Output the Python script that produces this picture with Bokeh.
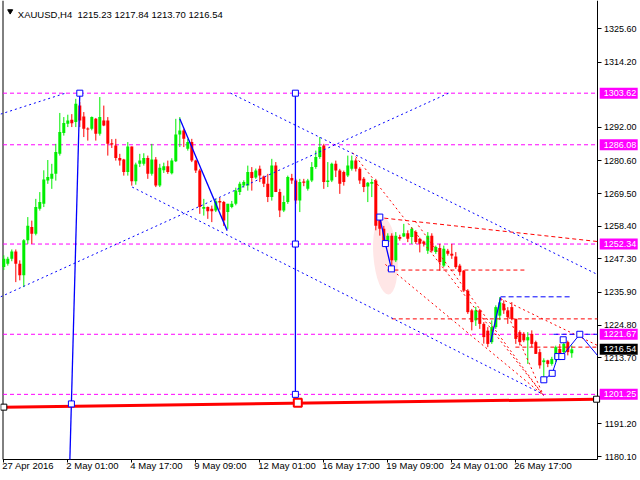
from bokeh.plotting import figure
from bokeh.models import Range1d, FixedTicker, Label, NumeralTickFormatter
from bokeh.embed import file_html
from bokeh.resources import INLINE
from bokeh.core.properties import value

# ---- OHLC data (H4 bars) ----
open_ = [1244.5, 1245.6, 1247.3, 1249.8, 1245.6, 1241.7, 1253.6, 1258.1, 1255.8, 1264.3,
         1266.0, 1273.9, 1274.5, 1276.2, 1283.0, 1290.1, 1293.2, 1294.6, 1293.8, 1299.4,
         1295.7, 1291.6, 1291.5, 1294.9, 1289.8, 1294.3, 1294.3, 1286.6, 1285.8, 1281.6,
         1281.1, 1276.8, 1285.5, 1273.7, 1279.6, 1279.6, 1281.6, 1276.2, 1281.1, 1272.2,
         1277.4, 1278.8, 1276.4, 1280.5, 1289.6, 1290.9, 1284.7, 1287.0, 1280.7, 1277.3,
         1264.3, 1264.9, 1264.3, 1263.7, 1267.0, 1266.6, 1263.2, 1264.9, 1266.0, 1270.0,
         1272.2, 1272.2, 1276.8, 1275.0, 1277.9, 1275.3, 1272.8, 1268.3, 1279.0, 1270.0,
         1263.7, 1266.6, 1274.8, 1273.9, 1267.1, 1273.6, 1271.1, 1273.9, 1278.5, 1281.9,
         1285.8, 1273.4, 1273.9, 1279.6, 1277.3, 1276.8, 1275.6, 1277.9, 1280.7, 1277.9,
         1274.5, 1271.9, 1272.8, 1273.9, 1260.3, 1257.5, 1253.0, 1255.2, 1246.8, 1254.7,
         1254.9, 1256.0, 1254.7, 1256.4, 1254.1, 1253.2, 1250.1, 1255.2, 1249.6, 1251.0,
         1245.0, 1250.1, 1249.0, 1248.1, 1245.0, 1243.3, 1236.5, 1229.8, 1226.4, 1229.8,
         1225.2, 1222.9, 1219.0, 1224.1, 1228.0, 1232.0, 1229.8, 1230.9, 1226.9, 1222.4,
         1221.8, 1219.6, 1221.8, 1219.0, 1215.6, 1212.2, 1212.8, 1211.6, 1213.3, 1216.7,
         1215.6, 1219.0, 1215.23]
high = [1248.5, 1248.0, 1250.5, 1250.5, 1246.8, 1254.0, 1261.5, 1260.3, 1267.7, 1270.0,
        1277.4, 1280.9, 1279.6, 1286.4, 1296.9, 1295.5, 1296.3, 1296.5, 1301.7, 1300.6,
        1297.2, 1292.0, 1295.7, 1295.2, 1302.3, 1299.4, 1295.5, 1288.0, 1288.1, 1283.0,
        1281.3, 1287.0, 1285.5, 1280.0, 1283.0, 1283.2, 1282.4, 1286.4, 1281.9, 1279.6,
        1280.0, 1280.7, 1281.5, 1294.9, 1295.5, 1291.5, 1288.1, 1288.1, 1281.0, 1277.9,
        1267.7, 1265.1, 1265.4, 1267.7, 1268.0, 1267.0, 1266.0, 1267.0, 1271.5, 1273.5,
        1274.0, 1279.0, 1278.5, 1278.0, 1279.0, 1275.6, 1276.2, 1281.3, 1280.2, 1271.1,
        1268.8, 1275.6, 1276.2, 1274.5, 1274.5, 1274.5, 1274.5, 1280.2, 1284.1, 1288.7,
        1286.4, 1280.2, 1280.0, 1280.7, 1277.9, 1277.3, 1282.4, 1282.4, 1281.5, 1278.5,
        1275.1, 1273.4, 1274.5, 1274.5, 1261.5, 1258.5, 1256.0, 1256.0, 1256.4, 1255.5,
        1259.2, 1257.0, 1258.1, 1257.0, 1254.5, 1253.5, 1256.4, 1256.0, 1251.8, 1252.4,
        1251.8, 1250.7, 1252.4, 1249.6, 1245.6, 1243.5, 1237.0, 1230.3, 1231.0, 1230.3,
        1225.8, 1224.1, 1226.4, 1231.5, 1234.3, 1233.2, 1230.9, 1232.6, 1227.0, 1223.0,
        1222.4, 1222.4, 1223.0, 1219.5, 1216.7, 1213.5, 1213.0, 1214.0, 1217.8, 1218.4,
        1219.5, 1219.5, 1217.84]
low = [1243.5, 1245.0, 1246.5, 1239.4, 1240.0, 1237.7, 1252.4, 1252.4, 1255.3, 1263.7,
       1264.9, 1272.8, 1271.1, 1273.9, 1282.4, 1289.2, 1292.1, 1292.1, 1292.1, 1292.1,
       1288.7, 1287.5, 1291.0, 1287.5, 1289.2, 1292.4, 1282.4, 1285.0, 1280.7, 1279.0,
       1275.6, 1275.6, 1272.2, 1272.5, 1278.5, 1279.0, 1274.5, 1275.6, 1271.7, 1271.7,
       1276.5, 1276.2, 1276.0, 1280.2, 1285.3, 1285.3, 1284.1, 1280.2, 1276.5, 1262.6,
       1262.0, 1260.9, 1259.8, 1263.2, 1264.0, 1258.5, 1257.5, 1264.5, 1265.5, 1269.0,
       1271.5, 1270.5, 1270.5, 1274.5, 1273.4, 1271.7, 1266.6, 1267.1, 1270.0, 1261.5,
       1263.2, 1266.0, 1272.8, 1266.0, 1263.2, 1272.0, 1270.5, 1273.4, 1277.9, 1281.3,
       1271.1, 1271.7, 1273.4, 1275.1, 1269.4, 1272.2, 1275.1, 1277.3, 1277.0, 1272.8,
       1270.0, 1266.6, 1268.3, 1257.0, 1255.2, 1251.5, 1252.0, 1244.5, 1246.2, 1253.5,
       1254.7, 1253.0, 1252.4, 1252.4, 1249.5, 1251.5, 1249.0, 1249.5, 1249.0, 1243.3,
       1244.5, 1248.4, 1247.3, 1243.9, 1241.6, 1236.0, 1228.6, 1223.0, 1224.5, 1223.5,
       1218.5, 1217.3, 1218.4, 1223.5, 1226.5, 1228.6, 1225.2, 1226.4, 1218.4, 1217.9,
       1219.0, 1211.6, 1217.3, 1215.0, 1210.0, 1206.3, 1210.5, 1211.0, 1212.2, 1213.3,
       1215.0, 1214.5, 1213.70]
close = [1247.3, 1247.3, 1249.8, 1245.6, 1241.7, 1253.6, 1258.6, 1255.8, 1264.9, 1266.6,
         1274.3, 1275.1, 1276.2, 1283.6, 1290.4, 1293.5, 1294.3, 1293.4, 1300.0, 1294.3,
         1291.5, 1291.3, 1295.5, 1289.8, 1295.5, 1292.6, 1286.4, 1286.2, 1281.6, 1280.7,
         1276.8, 1285.5, 1273.7, 1279.4, 1280.7, 1281.6, 1276.2, 1281.1, 1272.2, 1278.3,
         1278.8, 1276.8, 1280.7, 1289.6, 1290.9, 1288.1, 1287.0, 1280.7, 1277.3, 1264.9,
         1264.9, 1263.5, 1263.5, 1266.9, 1266.5, 1260.3, 1266.0, 1266.0, 1270.5, 1272.8,
         1273.4, 1276.8, 1274.8, 1277.3, 1275.6, 1272.8, 1268.3, 1279.0, 1270.0, 1263.7,
         1266.6, 1275.1, 1273.9, 1267.1, 1273.4, 1273.2, 1273.9, 1278.5, 1281.9, 1285.3,
         1273.4, 1273.9, 1279.6, 1277.3, 1272.8, 1273.4, 1279.0, 1280.7, 1277.9, 1273.9,
         1271.7, 1273.2, 1273.4, 1258.6, 1257.5, 1253.5, 1255.2, 1246.8, 1255.2, 1254.1,
         1256.0, 1254.1, 1257.5, 1253.0, 1252.4, 1252.4, 1255.2, 1250.1, 1251.3, 1246.2,
         1250.7, 1249.0, 1248.4, 1244.5, 1242.8, 1236.5, 1229.2, 1225.8, 1229.8, 1225.2,
         1220.7, 1218.4, 1224.1, 1230.9, 1232.5, 1229.8, 1227.5, 1226.9, 1220.1, 1219.0,
         1219.6, 1220.7, 1218.4, 1215.0, 1211.1, 1212.8, 1211.6, 1213.3, 1217.3, 1214.5,
         1218.4, 1215.6, 1216.54]

# ---- axes ----
date_ticks = [0, 16, 32, 48, 64, 80, 96, 112, 128]
date_labels = ["27 Apr 2016", "2 May 01:00", "4 May 17:00", "9 May 09:00", "12 May 01:00",
               "16 May 17:00", "19 May 09:00", "24 May 01:00", "26 May 17:00"]
price_ticks = [1325.60, 1314.20, 1292.00, 1280.60, 1269.50, 1258.40, 1247.30, 1235.90,
               1224.80, 1213.70, 1191.20, 1180.10]

# ---- drawn objects (bar index, price) ----
level_prices = [1303.62, 1286.08, 1252.34, 1221.67, 1201.25]
last_price = 1216.54
title_text = "XAUUSD,H4\u00a0\u00a01215.23 1217.84 1213.70 1216.54"

dotted_blue_x0 = [-0.8, 56.7, -0.8, 32.1]
dotted_blue_y0 = [1234.4, 1303.62, 1296.5, 1271.7]
dotted_blue_x1 = [111.2, 148.4, 15.4, 134.9]
dotted_blue_y1 = [1303.62, 1242.0, 1303.62, 1201.2]

solid_blue_x0 = [44.0, 19.0, 72.9, 121.7]
solid_blue_y0 = [1294.9, 1303.62, 1303.62, 1219.0]
solid_blue_x1 = [55.85, 16.52, 72.9, 124.2]
solid_blue_y1 = [1256.9, 1179.1, 1201.25, 1234.2]

zig1_x = [94.0, 95.4, 96.9]
zig1_y = [1261.5, 1252.5, 1243.9]
zig3_x = [135.0, 137.1, 138.5, 139.5, 144.0, 148.4]
zig3_y = [1206.2, 1208.4, 1214.1, 1214.1, 1221.67, 1214.5]

box_x = [19.0, 16.9, 72.9, 72.9, 72.9, 94.0, 95.4, 96.9, 135.0, 137.1, 138.5, 139.5, 139.85, 144.0]
box_y = [1303.62, 1198.0, 1303.62, 1252.34, 1201.25, 1261.5, 1252.5, 1243.9, 1206.2, 1208.4,
         1214.1, 1214.1, 1219.8, 1221.67]

dashed_blue_x0 = [124.2, 137.4]
dashed_blue_x1 = [142.2, 148.4]
dashed_blue_y = [1234.4, 1221.67]

red_trend_x = [0.0, 148.2]
red_trend_y = [1196.9, 1199.6]
red_mid_x = [73.5]
red_mid_y = [1198.4]

red_dash_x0 = [93.4, 95.9, 97.0, 127.9]
red_dash_y0 = [1261.4, 1243.5, 1226.9, 1217.3]
red_dash_x1 = [148.4, 130.9, 148.4, 148.4]
red_dash_y1 = [1253.2, 1243.5, 1226.9, 1217.3]

fan_x0 = [87.2, 95.4, 102.9, 124.2, 124.2]
fan_y0 = [1283.4, 1245.4, 1260.0, 1233.8, 1233.8]
fan_x1 = [134.9, 134.9, 134.9, 134.9, 148.4]
fan_y1 = [1200.9, 1200.9, 1200.9, 1200.9, 1217.9]

BLUE = "#0000FF"
RED = "#FF0000"
MAG = "#FF00FF"
GREEN = "#00EE00"
FONT = "Liberation Sans"

W, H = 638, 478
ppb = 4.0                       # pixels per bar
X0 = 3.3                        # pixel of bar 0
SCALE_X = (597 - X0) / ppb      # bar index where the price scale begins
LEFT_X = (2.5 - X0) / ppb       # left chart border
ppu = 1 / 0.3399                # pixels per price unit
TOP_PRICE = 1335.12
BOTTOM_Y = TOP_PRICE - 459 / ppu   # price at the chart's bottom edge
XR = (-X0 / ppb, (W - X0) / ppb)
YR = (TOP_PRICE - H / ppu, TOP_PRICE)

p = figure(width=W, height=H, output_backend="svg", toolbar_location=None,
           x_range=Range1d(*XR), y_range=Range1d(*YR),
           x_axis_location="above", y_axis_location="left", min_border=0)
p.grid.visible = False
p.outline_line_color = None
p.background_fill_color = "white"
p.border_fill_color = "white"

# price scale: axis pinned at the scale's edge, ticks pointing right, labels to the right
ya = p.yaxis[0]
ya.fixed_location = SCALE_X
ya.ticker = FixedTicker(ticks=price_ticks)
ya.formatter = NumeralTickFormatter(format="0.00")
ya.major_tick_in = 4
ya.major_tick_out = 0
ya.minor_tick_in = 0
ya.minor_tick_out = 0
ya.major_label_standoff = -39
ya.major_label_text_font = FONT
ya.major_label_text_font_size = "9px"
ya.major_label_text_color = "black"
ya.axis_line_color = None

# time scale: axis pinned at the chart bottom, tick marks down, labels below
shifted = []
overrides = {}
for t, lab in zip(date_ticks, date_labels):
    w = 5.28 * sum(ch.isdigit() for ch in lab) + 2.64 * (lab.count(" ") + lab.count(":"))
    w += {"Apr": 14.8, "May": 18.0}[lab.split()[1]]
    pos = round(t + (w / 2 - 1.5) / ppb, 2)
    shifted.append(pos)
    overrides[pos] = lab
xa = p.xaxis[0]
xa.fixed_location = BOTTOM_Y
xa.ticker = FixedTicker(ticks=shifted, minor_ticks=date_ticks)
xa.major_label_overrides = overrides
xa.major_tick_in = 0
xa.major_tick_out = 0
xa.minor_tick_in = 3
xa.minor_tick_out = 0
xa.minor_tick_line_color = "black"
xa.axis_line_color = None
xa.major_label_standoff = -11
xa.major_label_text_font = FONT
xa.major_label_text_font_size = "9.5px"
xa.major_label_text_color = "black"

# chart frame lines (left, bottom, price-scale edge)
p.line([LEFT_X, LEFT_X], [BOTTOM_Y, YR[1]], line_color="black", line_width=1)
p.line([LEFT_X, SCALE_X], [BOTTOM_Y, BOTTOM_Y], line_color="black", line_width=1)
p.line([SCALE_X, SCALE_X], [BOTTOM_Y, YR[1]], line_color="black", line_width=1)

# magenta horizontal levels
for lv in level_prices:
    p.line([LEFT_X, SCALE_X], [lv, lv], line_color=MAG, line_width=1, line_dash="4 3")

# pale pink shaded ellipse
p.ellipse(x=[95.4], y=[1248.4], width=24, height=78, width_units="screen",
          height_units="screen", angle=0.08, fill_color="#FFE6E6", line_color=None)

# candles
idx = list(range(len(open_)))
cols = [GREEN if c >= o else RED for o, c in zip(open_, close)]
tops = [max(o, c) for o, c in zip(open_, close)]
bots = [min(o, c) for o, c in zip(open_, close)]
bots = [b if t - b > 0.35 else t - 0.35 for t, b in zip(tops, bots)]
p.segment(x0=idx, y0=low, x1=idx, y1=high, line_color=cols, line_width=1)
p.vbar(x=idx, top=tops, bottom=bots, width=0.75, fill_color=cols, line_color=None)

# red thick trend line
p.line(red_trend_x, red_trend_y, line_color=RED, line_width=3)
p.scatter(red_trend_x, red_trend_y, marker="square", size=6, fill_color="white",
          line_color="black", line_width=1)
p.scatter(red_mid_x, red_mid_y, marker="square", size=8, fill_color="white",
          line_color=RED, line_width=2)

# red dashed & dotted lines
p.segment(x0=red_dash_x0, y0=red_dash_y0, x1=red_dash_x1, y1=red_dash_y1,
          line_color=RED, line_width=1, line_dash="4 3")
p.segment(x0=fan_x0, y0=fan_y0, x1=fan_x1, y1=fan_y1,
          line_color=RED, line_width=1, line_dash="2 3")

# blue lines
p.segment(x0=dotted_blue_x0, y0=dotted_blue_y0, x1=dotted_blue_x1, y1=dotted_blue_y1,
          line_color=BLUE, line_width=1, line_dash="2 3")
p.segment(x0=dashed_blue_x0, y0=dashed_blue_y, x1=dashed_blue_x1, y1=dashed_blue_y,
          line_color=BLUE, line_width=1, line_dash="5 3")
p.segment(x0=solid_blue_x0, y0=solid_blue_y0, x1=solid_blue_x1, y1=solid_blue_y1,
          line_color=BLUE, line_width=1.3)
p.line(zig1_x, zig1_y, line_color=BLUE, line_width=1.3)
p.line(zig3_x, zig3_y, line_color=BLUE, line_width=1)
p.scatter(box_x, box_y, marker="square", size=6, fill_color="white",
          line_color=BLUE, line_width=1)

# price tags on the scale (drawn above the axis labels)
tag_prices = level_prices + [last_price]
tag_colors = [MAG] * len(level_prices) + ["black"]
tag_text = ["%.2f" % v for v in tag_prices]
p.rect(x=[SCALE_X + 21.2 / ppb] * len(tag_prices), y=tag_prices, width=38, height=11,
       width_units="screen", height_units="screen", fill_color=tag_colors, line_color=None,
       level="overlay")
p.text(x=[SCALE_X + 38.7 / ppb] * len(tag_prices), y=tag_prices, text=tag_text,
       text_align="right", text_baseline="middle", text_color="white",
       text_font=value(FONT), text_font_size="9px", level="overlay")

# title
p.scatter([(9.7 - X0) / ppb], [TOP_PRICE - 10.7 / ppu], marker="inverted_triangle", size=5,
          fill_color="black", line_color="black")
p.add_layout(Label(x=XR[0], y=TOP_PRICE - 14 / ppu, x_offset=17.3, text=title_text,
                   text_baseline="alphabetic", text_align="left", text_font=FONT,
                   text_font_size="9.5px", text_color="black"))

open("out.html", "w").write(file_html(p, INLINE))
